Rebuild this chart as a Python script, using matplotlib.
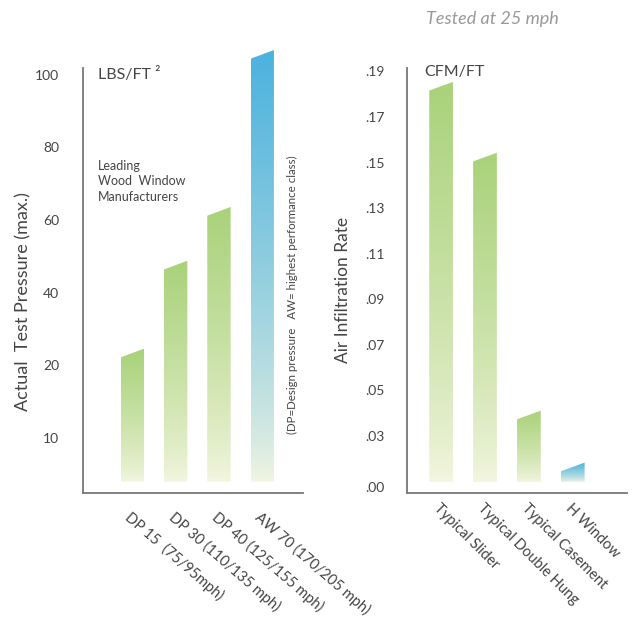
import numpy as np
import matplotlib.pyplot as plt
from matplotlib.patches import Polygon
from matplotlib.colors import to_rgb

plt.rcParams["font.family"] = ["Lato", "DejaVu Sans"]

# left panel: test pressure
pressure_labels = ["DP 15  (75/95mph)", "DP 30 (110/135 mph)",
                   "DP 40 (125/155 mph)", "AW 70 (170/205 mph)"]
pressure_values = [23.4, 47.6, 62.4, 105.6]
pressure_ticks = [0, 20, 40, 60, 80, 100]
pressure_ticklabels = ["10", "20", "40", "60", "80", "100"]

# right panel: air infiltration
air_labels = ["Typical Slider", "Typical Double Hung", "Typical Casement", "H Window"]
air_values = [0.1835, 0.1524, 0.0392, 0.0164]
air_ticks = [0.0076, 0.03, 0.05, 0.07, 0.09, 0.11, 0.13, 0.15, 0.17, 0.19]
air_ticklabels = [".00", ".03", ".05", ".07", ".09", ".11", ".13", ".15", ".17", ".19"]

GREEN = "#a9d27a"
BLUE = "#4cb2de"
PALE = "#f4f6e2"
TEXT = "#444444"
AXIS = "#777777"


def gradient_bar(ax, x, top, base, width, color, slant):
    """上が色、下が淡い色のグラデーション棒（上辺は少し傾ける）"""
    x0, x1 = x - width / 2, x + width / 2
    poly = Polygon([(x0, base), (x1, base), (x1, top + slant), (x0, top - slant)],
                   closed=True, facecolor="none", edgecolor="none",
                   transform=ax.transData, clip_on=False)
    ax.add_patch(poly)
    c_top = np.array(to_rgb(color))
    c_bot = np.array(to_rgb(PALE))
    t = np.linspace(0, 1, 256)[:, None] ** 0.75
    img = (c_bot * (1 - t) + c_top * t)[:, None, :]
    im = ax.imshow(img, extent=(x0, x1, base, top + slant), origin="lower",
                   aspect="auto", interpolation="bilinear", zorder=2)
    # 軸の枠ではなく棒の形で切り抜く
    im.set_clip_on(True)
    im.set_clip_path(poly)
    im.set_clip_box(ax.figure.bbox)


def style_axis(ax):
    for side in ["top", "right"]:
        ax.spines[side].set_visible(False)
    for side in ["left", "bottom"]:
        ax.spines[side].set_color(AXIS)
        ax.spines[side].set_linewidth(1.3)
    ax.tick_params(axis="y", length=0, labelsize=10, labelcolor=TEXT)
    ax.tick_params(axis="x", length=0, labelsize=10.5, labelcolor=TEXT)


fig = plt.figure(figsize=(6.4, 6.2), dpi=100)

# ---- 左側
ax1 = fig.add_axes([0.129, 0.205, 0.344, 0.685])
ax1.set_xlim(-1.15, 3.935)
ax1.set_ylim(-15.1, 101.8)
base1 = -12
for i, v in enumerate(pressure_values):
    color = BLUE if i == len(pressure_values) - 1 else GREEN
    gradient_bar(ax1, i, v, base1, 0.54, color, 1.2)
ax1.set_xticks(range(len(pressure_labels)))
ax1.set_xticklabels(pressure_labels, rotation=-41, ha="left", va="top",
                    rotation_mode="anchor")
ax1.set_yticks(pressure_ticks)
ax1.set_yticklabels(pressure_ticklabels, ha="right")
style_axis(ax1)
ax1.tick_params(axis="y", pad=17)
ax1.tick_params(axis="x", pad=12)
ax1.set_ylabel("Actual  Test Pressure (max.)", fontsize=13, color=TEXT)
ax1.yaxis.set_label_coords(-0.23, 0.45)
ax1.text(0.07, 0.985, "LBS/FT ²", transform=ax1.transAxes, fontsize=11.5,
         color=TEXT, va="center")
ax1.text(0.07, 0.785, "Leading\nWood  Window\nManufacturers", transform=ax1.transAxes,
         fontsize=9, color=TEXT, va="top", linespacing=1.35)
ax1.text(0.955, 0.466, "(DP=Design pressure   AW= highest performance class)",
         transform=ax1.transAxes, rotation=90, fontsize=8.3, color=TEXT,
         ha="center", va="center")

# ---- 右側
ax2 = fig.add_axes([0.636, 0.205, 0.344, 0.685])
ax2.set_xlim(-0.776, 4.24)
ax2.set_ylim(0.005, 0.1914)
base2 = 0.0098
for i, v in enumerate(air_values):
    color = BLUE if i == len(air_values) - 1 else GREEN
    gradient_bar(ax2, i, v, base2, 0.54, color, 0.0019)
ax2.set_xticks(range(len(air_labels)))
ax2.set_xticklabels(air_labels, rotation=-45, ha="left", va="top",
                    rotation_mode="anchor")
ax2.set_yticks(air_ticks)
ax2.set_yticklabels(air_ticklabels, ha="left")
style_axis(ax2)
ax2.tick_params(axis="y", pad=30)
ax2.tick_params(axis="x", pad=6)
ax2.set_ylabel("Air Infiltration Rate", fontsize=12.5, color=TEXT)
ax2.yaxis.set_label_coords(-0.254, 0.478)
ax2.text(0.08, 0.99, "CFM/FT", transform=ax2.transAxes, fontsize=11.5,
         color=TEXT, va="center")

fig.text(0.77, 0.97, "Tested at 25 mph", fontsize=13, style="italic",
         color="#999999", ha="center", va="center")

plt.savefig("out.png", dpi=100)
